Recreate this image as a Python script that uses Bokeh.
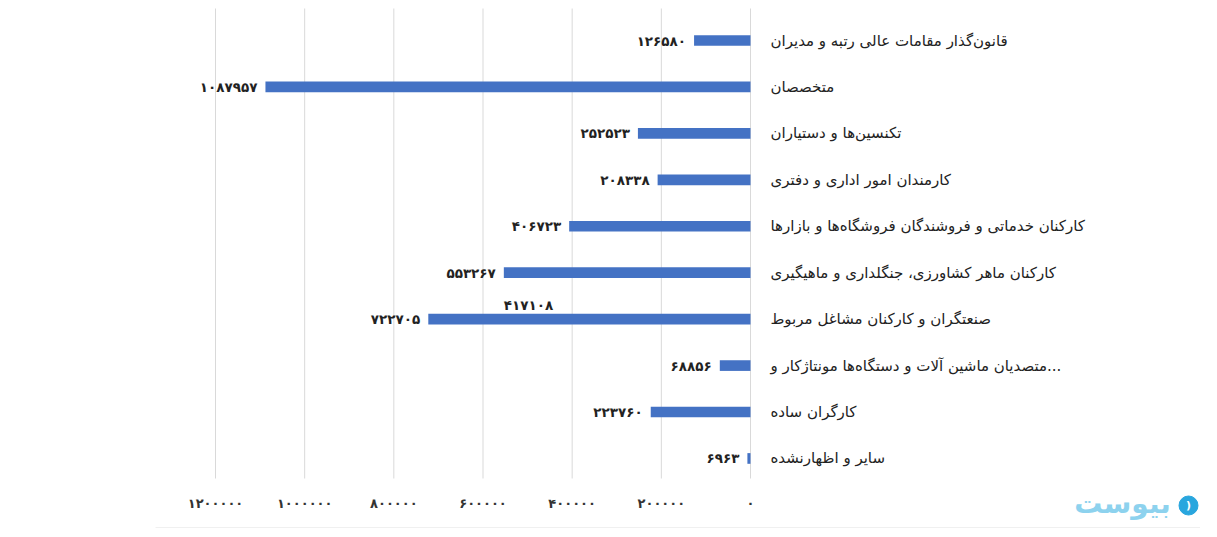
from bokeh.plotting import figure
from bokeh.models import Range1d, ColumnDataSource
from bokeh.embed import file_html
from bokeh.resources import INLINE
from bokeh.core.properties import value

categories = [
    "قانون‌گذار مقامات عالی رتبه و مدیران",
    "متخصصان",
    "تکنسین‌ها و دستیاران",
    "کارمندان امور اداری و دفتری",
    "کارکنان خدماتی و  فروشندگان فروشگاه‌ها و بازارها",
    "کارکنان ماهر کشاورزی، جنگلداری و ماهیگیری",
    "صنعتگران و کارکنان مشاغل مربوط",
    "متصدیان ماشین آلات و دستگاه‌ها مونتاژکار و...",
    "کارگران ساده",
    "سایر و اظهارنشده",
]
values = [126580, 1087957, 252523, 208338, 406723, 553267, 722705, 68856, 223760, 6963]
x_ticks = [0, 200000, 400000, 600000, 800000, 1000000, 1200000]
stray_label_value = 417108
stray_label_row = 6
watermark = "بیوست"

FA = str.maketrans("0123456789", "۰۱۲۳۴۵۶۷۸۹")
def fa(n):
    return str(n).translate(FA)

FONT = "DejaVu Sans"
rows = list(range(len(categories)))

# ---- layout (pixels) ----
W, H = 1200, 530
ZERO_PX = 750                      # x pixel of value 0
PX_PER_UNIT = 535 / 1200000        # pixels per value unit
TOP_ROW_PX = 40                    # y pixel of first row
ROW_PX = 46.44                     # pixels between rows

def xv(px):   # pixel -> data x
    return (ZERO_PX - px) / PX_PER_UNIT
def yv(py):   # pixel -> data y
    return (py - TOP_ROW_PX) / ROW_PX

p = figure(width=W, height=H, output_backend="svg", toolbar_location=None,
           x_range=Range1d(xv(0), xv(W)), y_range=Range1d(yv(H), yv(0)),
           min_border=0, min_border_left=0, min_border_right=0,
           min_border_top=0, min_border_bottom=0)
p.outline_line_color = None
p.background_fill_color = "white"
p.xaxis.visible = False
p.yaxis.visible = False
p.grid.visible = False

# vertical gridlines (with small tick extension at the bottom)
n = len(x_ticks)
p.segment(x0=x_ticks, y0=[yv(8)] * n, x1=x_ticks, y1=[yv(478)] * n,
          line_color="#d9d9d9", line_width=1)

# bars
src = ColumnDataSource(dict(y=rows, v=values, lab=[fa(v) for v in values], cat=categories))
p.hbar(y="y", left=0, right="v", height=0.23, source=src, color="#4472C4", line_color=None)

# value labels
p.text(x="v", y="y", text="lab", source=src, text_align="right", text_baseline="middle",
       x_offset=-8, text_font=value(FONT), text_font_style="bold", text_font_size="13.5px",
       text_color="#222222")

p.text(x=[stray_label_value], y=[stray_label_row], text=[fa(stray_label_value)],
       text_align="center", text_baseline="middle", x_offset=-36, y_offset=-14,
       text_font=value(FONT), text_font_style="bold", text_font_size="13.5px", text_color="#222222")

# category labels
p.text(x=0, y="y", text="cat", source=src, x_offset=20,
       text_align="left", text_baseline="middle", text_font=value(FONT),
       text_font_size="15px", text_color="#222222")

# x tick labels
p.text(x=x_ticks, y=[yv(503)] * n, text=[fa(t) for t in x_ticks],
       text_align="center", text_baseline="middle", text_font=value(FONT),
       text_font_style="bold", text_font_size="13px", text_color="#333333")

# faint bottom rule
p.segment(x0=[xv(155)], y0=[yv(527)], x1=[xv(W)], y1=[yv(527)], line_color="#f0f0f0", line_width=1)

# watermark logo
p.text(x=[xv(1122)], y=[yv(503)], text=[watermark], text_align="center", text_baseline="middle",
       text_font=value(FONT), text_font_style="bold", text_font_size="28px", text_color="#8dd2ee")
p.scatter(x=[xv(1188)], y=[yv(505)], size=19, marker="circle", color="#29a6de")
p.text(x=[xv(1188)], y=[yv(505)], text=[")"], text_align="center", text_baseline="middle",
       text_font=value(FONT), text_font_style="bold", text_font_size="11px", text_color="white")

open("out.html", "w").write(file_html(p, INLINE))
